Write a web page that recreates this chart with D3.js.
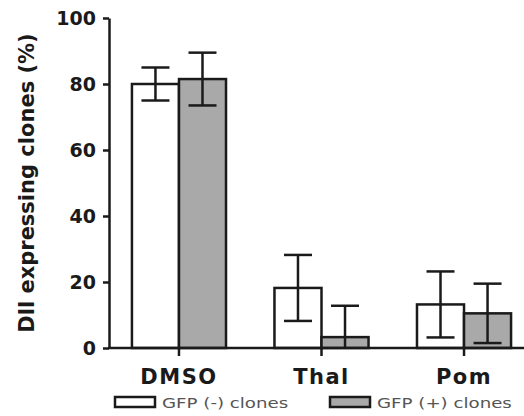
<!DOCTYPE html>
<html>
<head>
<meta charset="utf-8">
<script src="https://cdn.jsdelivr.net/npm/d3@7"></script>
<style>
  body { margin: 0; background: #fff; }
  svg { display: block; }
</style>
</head>
<body>
<script>
// Tamaño del SVG
const width = 524;
const height = 416;

// Datos
const categories = ["DMSO", "Thal", "Pom"];
const groups = ["GFP (-) clones", "GFP (+) clones"];
const gfpNegMean = [80, 18.2, 13.2];
const gfpNegSd = [5, 10, 10];
const gfpPosMean = [81.5, 3.3, 10.5];
const gfpPosSd = [8, 9.5, 9];
const yTicks = [0, 20, 40, 60, 80, 100];

const fills = ["#ffffff", "#a9a9a9"];
const ink = "#1a1a1a";

const svg = d3.select("body")
  .append("svg")
  .attr("width", width)
  .attr("height", height);

// Escalas
const x = d3.scaleBand()
  .domain(categories)
  .range([108, 535])
  .paddingInner(0.34)
  .paddingOuter(0.168);

const xSub = d3.scaleBand()
  .domain(groups)
  .range([0, x.bandwidth()]);

const y = d3.scaleLinear()
  .domain([0, 100])
  .range([348, 18]);

// Filas para barras
const rows = [];
categories.forEach((c, i) => {
  rows.push({ cat: c, grp: groups[0], m: gfpNegMean[i], sd: gfpNegSd[i], k: 0 });
  rows.push({ cat: c, grp: groups[1], m: gfpPosMean[i], sd: gfpPosSd[i], k: 1 });
});

const bars = svg.append("g");

bars.selectAll("rect")
  .data(rows)
  .enter()
  .append("rect")
  .attr("x", d => x(d.cat) + xSub(d.grp))
  .attr("y", d => y(d.m))
  .attr("width", xSub.bandwidth())
  .attr("height", d => y(0) - y(d.m))
  .attr("fill", d => fills[d.k])
  .attr("stroke", ink)
  .attr("stroke-width", 2.5);

// Barras de error
const capW = 28;
const err = svg.append("g")
  .attr("stroke", ink)
  .attr("stroke-width", 2.5);

rows.forEach(d => {
  const cx = x(d.cat) + xSub(d.grp) + xSub.bandwidth() / 2;
  const hi = d.m + d.sd;
  const lo = Math.max(0, d.m - d.sd);
  err.append("line")
    .attr("x1", cx).attr("x2", cx)
    .attr("y1", y(hi)).attr("y2", y(lo));
  err.append("line")
    .attr("x1", cx - capW / 2).attr("x2", cx + capW / 2)
    .attr("y1", y(hi)).attr("y2", y(hi));
  if (d.m - d.sd > 0) {
    err.append("line")
      .attr("x1", cx - capW / 2).attr("x2", cx + capW / 2)
      .attr("y1", y(lo)).attr("y2", y(lo));
  }
});

// Eje Y
const yAxis = svg.append("g")
  .attr("transform", "translate(109,0)")
  .call(d3.axisLeft(y).tickValues(yTicks).tickSize(6).tickSizeOuter(0).tickPadding(7));

yAxis.selectAll("path, line")
  .attr("stroke", ink)
  .attr("stroke-width", 2.5);
yAxis.selectAll("text")
  .attr("font-family", "DejaVu Sans")
  .attr("font-weight", "bold")
  .attr("font-size", 19)
  .attr("fill", ink);

// Eje X
const xAxis = svg.append("g")
  .attr("transform", "translate(0,348)")
  .call(d3.axisBottom(x).tickSize(8).tickSizeOuter(0).tickPadding(13));

xAxis.select(".domain").attr("d", "M108,0H524");
xAxis.selectAll("path, line")
  .attr("stroke", ink)
  .attr("stroke-width", 2.5);
xAxis.selectAll("text")
  .attr("font-family", "DejaVu Sans")
  .attr("font-weight", "bold")
  .attr("font-size", 21)
  .attr("letter-spacing", 1.5)
  .attr("fill", ink);

// Título del eje Y
svg.append("text")
  .attr("transform", "translate(34,183) rotate(-90)")
  .attr("text-anchor", "middle")
  .attr("font-family", "DejaVu Sans")
  .attr("font-weight", "bold")
  .attr("font-size", 21)
  .attr("fill", ink)
  .text("Dll expressing clones (%)");

// Leyenda
const legendX = [115, 330];
const legend = svg.append("g");

groups.forEach((g, i) => {
  legend.append("rect")
    .attr("x", legendX[i])
    .attr("y", 397)
    .attr("width", 40)
    .attr("height", 10)
    .attr("fill", fills[i])
    .attr("stroke", ink)
    .attr("stroke-width", 2.5);
  legend.append("text")
    .attr("transform", `translate(${legendX[i] + 47},408) scale(1.3,1)`)
    .attr("font-family", "DejaVu Sans")
    .attr("font-size", 14)
    .attr("fill", "#555")
    .text(g);
});
</script>
</body>
</html>
